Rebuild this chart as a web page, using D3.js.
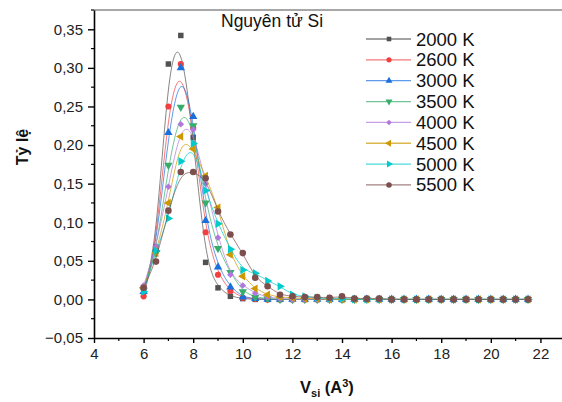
<!DOCTYPE html>
<html>
<head>
<meta charset="utf-8">
<script src="https://cdn.jsdelivr.net/npm/d3@7"></script>
<style>
  body { margin: 0; background: #fff; }
  text { font-family: "Liberation Sans", Arial, sans-serif; }
</style>
</head>
<body>
<div id="chart"></div>
<script>
var WD = 562, HT = 402
var margin = { left: 94, right: 0, top: 10, bottom: 64 }

// volume values on x axis
var vol = [6, 6.5, 7, 7.5, 8, 8.5, 9, 9.5, 10, 10.5, 11, 11.5, 12, 12.5, 13, 13.5,
           14, 14.5, 15, 15.5, 16, 16.5, 17, 17.5, 18, 18.5, 19, 19.5, 20, 20.5, 21, 21.5]

var temps = ["2000 K", "2600 K", "3000 K", "3500 K", "4000 K", "4500 K", "5000 K", "5500 K"]
var colors = ["#515151", "#F14040", "#1A6FDF", "#37AD6B", "#B177DE", "#CC9900", "#00CBCC", "#7D4E4E"]

var t2000 = [0.014, 0.066, 0.305, 0.342, 0.210, 0.048, 0.015, 0.004, 0.001, 0.000, 0.000, 0.000, 0.000, 0.000, 0.000, 0.000,
             0.000, 0.000, 0.000, 0.000, 0.000, 0.000, 0.000, 0.000, 0.000, 0.000, 0.000, 0.000, 0.000, 0.000, 0.000, 0.000]
var t2600 = [0.004, 0.068, 0.250, 0.305, 0.222, 0.087, 0.032, 0.011, 0.002, 0.001, 0.000, 0.000, 0.000, 0.000, 0.000, 0.000,
             0.000, 0.000, 0.000, 0.000, 0.000, 0.000, 0.000, 0.000, 0.000, 0.000, 0.000, 0.000, 0.000, 0.000, 0.000, 0.000]
var t3000 = [0.010, 0.065, 0.216, 0.300, 0.237, 0.102, 0.042, 0.016, 0.003, 0.001, 0.000, 0.000, 0.000, 0.000, 0.000, 0.000,
             0.000, 0.000, 0.000, 0.000, 0.000, 0.000, 0.000, 0.000, 0.000, 0.000, 0.000, 0.000, 0.000, 0.000, 0.000, 0.000]
var t3500 = [0.012, 0.060, 0.174, 0.249, 0.225, 0.125, 0.066, 0.035, 0.010, 0.003, 0.001, 0.000, 0.000, 0.000, 0.000, 0.000,
             0.000, 0.000, 0.000, 0.000, 0.000, 0.000, 0.000, 0.000, 0.000, 0.000, 0.000, 0.000, 0.000, 0.000, 0.000, 0.000]
var t4000 = [0.018, 0.068, 0.146, 0.227, 0.220, 0.150, 0.080, 0.032, 0.018, 0.008, 0.003, 0.001, 0.000, 0.000, 0.000, 0.000,
             0.000, 0.000, 0.000, 0.000, 0.000, 0.000, 0.000, 0.000, 0.000, 0.000, 0.000, 0.000, 0.000, 0.000, 0.000, 0.000]
var t4500 = [0.015, 0.060, 0.125, 0.211, 0.195, 0.160, 0.119, 0.058, 0.030, 0.014, 0.006, 0.003, 0.002, 0.001, 0.001, 0.000,
             0.000, 0.000, 0.000, 0.000, 0.000, 0.000, 0.000, 0.000, 0.000, 0.000, 0.000, 0.000, 0.000, 0.000, 0.000, 0.000]
var t5000 = [0.010, 0.063, 0.105, 0.179, 0.202, 0.141, 0.098, 0.065, 0.038, 0.034, 0.024, 0.017, 0.006, 0.004, 0.002, 0.001,
             0.001, 0.000, 0.000, 0.000, 0.000, 0.000, 0.000, 0.000, 0.000, 0.000, 0.000, 0.000, 0.000, 0.000, 0.000, 0.000]
var t5500 = [0.015, 0.049, 0.115, 0.165, 0.165, 0.157, 0.114, 0.084, 0.060, 0.028, 0.017, 0.006, 0.004, 0.003, 0.003, 0.002,
             0.004, 0.001, 0.001, 0.001, 0.000, 0.000, 0.000, 0.000, 0.000, 0.000, 0.000, 0.000, 0.000, 0.000, 0.000, 0.000]

var allSeries = [t2000, t2600, t3000, t3500, t4000, t4500, t5000, t5500]

var yTicks = [-0.05, 0, 0.05, 0.10, 0.15, 0.20, 0.25, 0.30, 0.35]
var xTicks = [4, 6, 8, 10, 12, 14, 16, 18, 20, 22]

// marker shapes: [symbol, rotation]
var shapes = [
  [d3.symbolSquare, 0], [d3.symbolCircle, 0], [d3.symbolTriangle, 0], [d3.symbolTriangle, 180],
  [d3.symbolSquare, 45], [d3.symbolTriangle, -90], [d3.symbolTriangle, 90], [d3.symbolCircle, 0]
]
var sizes = [30, 30, 30, 30, 22, 30, 30, 34]

var svg = d3.select("#chart")
            .append("svg")
              .attr("width", WD)
              .attr("height", HT)

var x = d3.scaleLinear().domain([4, 22.87]).range([margin.left, WD - margin.right])
var y = d3.scaleLinear().domain([-0.05, 0.375]).range([HT - margin.bottom, margin.top])

// top frame
svg.append("line")
   .attr("x1", margin.left).attr("x2", WD)
   .attr("y1", margin.top).attr("y2", margin.top)
   .attr("stroke", "#8a8a8a").attr("stroke-width", 1.5)

// minor ticks
var yMinor = d3.range(-0.025, 0.38, 0.05)
svg.append("g").selectAll("line").data(yMinor).enter().append("line")
   .attr("x1", margin.left - 3).attr("x2", margin.left)
   .attr("y1", function(d){ return y(d) }).attr("y2", function(d){ return y(d) })
   .attr("stroke", "#000").attr("stroke-width", 1.2)
var xMinor = [5, 7, 9, 11, 13, 15, 17, 19, 21]
svg.append("g").selectAll("line").data(xMinor).enter().append("line")
   .attr("x1", function(d){ return x(d) }).attr("x2", function(d){ return x(d) })
   .attr("y1", HT - margin.bottom).attr("y2", HT - margin.bottom + 3)
   .attr("stroke", "#000").attr("stroke-width", 1.2)

var yAxis = svg.append("g")
   .attr("transform", "translate(" + margin.left + ",0)")
   .call(d3.axisLeft(y).tickValues(yTicks).tickSize(6).tickSizeOuter(0).tickPadding(5)
         .tickFormat(function(d){ return d3.format(".2f")(d).replace(".", ",") }))
var xAxis = svg.append("g")
   .attr("transform", "translate(0," + (HT - margin.bottom) + ")")
   .call(d3.axisBottom(x).tickValues(xTicks).tickSize(5).tickSizeOuter(0).tickPadding(5))

svg.selectAll(".domain").attr("stroke", "#000").attr("stroke-width", 1.6)
svg.selectAll(".tick line").attr("stroke", "#000").attr("stroke-width", 1.4)
svg.selectAll(".tick text").attr("font-size", 15).attr("fill", "#222")
   .style("font-family", "'Liberation Sans', Arial, sans-serif")

// series
var line = d3.line()
  .x(function(d){ return x(d[0]) })
  .y(function(d){ return y(d[1]) })
  .curve(d3.curveBasis)

allSeries.forEach(function(vals, i){
  var pts = vol.map(function(v, j){ return [v, vals[j]] })
  var g = svg.append("g")
  g.append("path")
   .attr("d", line(pts))
   .attr("fill", "none")
   .attr("stroke", colors[i])
   .attr("stroke-opacity", 0.7)
   .attr("stroke-width", 1)
  g.selectAll("path.pt").data(pts).enter().append("path")
   .attr("class", "pt")
   .attr("d", d3.symbol().type(shapes[i][0]).size(sizes[i]))
   .attr("transform", function(d){ return "translate(" + x(d[0]) + "," + y(d[1]) + ") rotate(" + shapes[i][1] + ")" })
   .attr("fill", colors[i])
})

// legend
var leg = svg.append("g")
temps.forEach(function(t, i){
  var ly = 39 + i * 20.85
  leg.append("line")
     .attr("x1", 366).attr("x2", 411).attr("y1", ly).attr("y2", ly)
     .attr("stroke", colors[i]).attr("stroke-opacity", 0.7).attr("stroke-width", 1.3)
  leg.append("path")
     .attr("d", d3.symbol().type(shapes[i][0]).size(sizes[i] * 0.7))
     .attr("transform", "translate(389," + ly + ") rotate(" + shapes[i][1] + ")")
     .attr("fill", colors[i])
  leg.append("text")
     .attr("x", 416).attr("y", ly + 6.5)
     .attr("font-size", 18.5).attr("fill", "#111")
     .text(t)
})

// title
svg.append("text")
   .attr("x", 221).attr("y", 27)
   .attr("font-size", 17.5).attr("fill", "#111")
   .text("Nguyên tử Si")

// axis titles
svg.append("text")
   .attr("transform", "translate(28,147) rotate(-90)")
   .attr("text-anchor", "middle")
   .attr("font-size", 16).attr("font-weight", "bold").attr("fill", "#111")
   .text("Tỷ lệ")

var xt = svg.append("text")
   .attr("x", 300).attr("y", 393)
   .attr("font-size", 16.5).attr("font-weight", "bold").attr("fill", "#111")
xt.append("tspan").text("V")
xt.append("tspan").attr("font-size", 11).attr("dy", 4).text("si")
xt.append("tspan").attr("dy", -4).text(" (A")
xt.append("tspan").attr("font-size", 11).attr("dy", -6).text("3")
xt.append("tspan").attr("dy", 6).text(")")
</script>
</body>
</html>
